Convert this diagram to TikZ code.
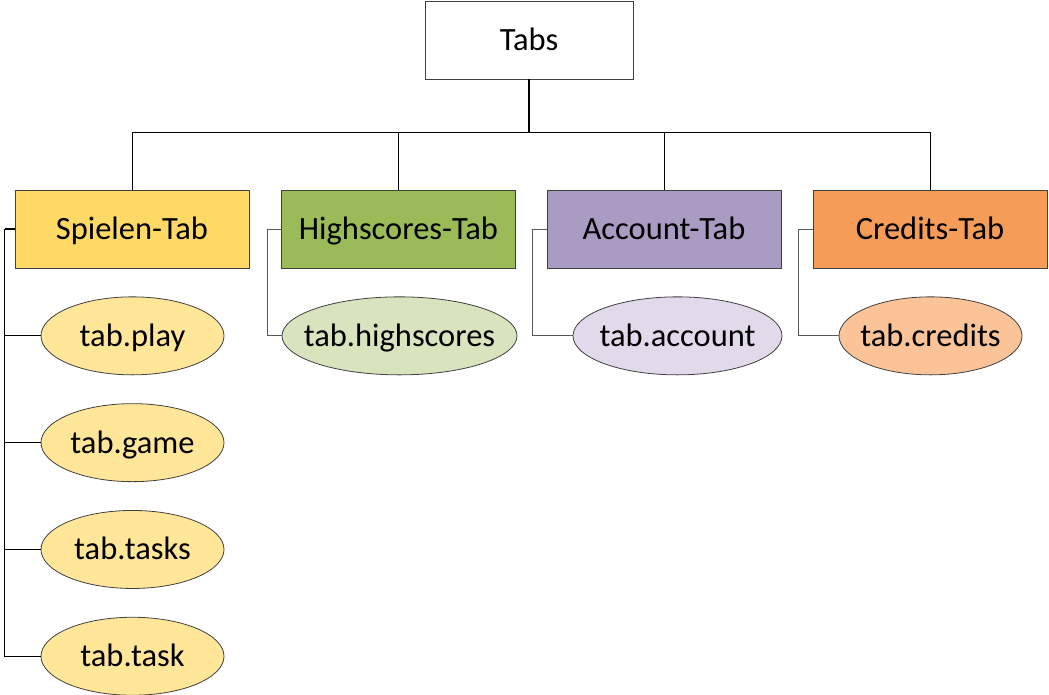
\documentclass[tikz,border=0pt]{standalone}
\usepackage{fontspec}
\setmainfont{Carlito}
\usetikzlibrary{positioning,shapes.geometric}

\definecolor{spielenfill}{HTML}{FFD966}
\definecolor{spielenleaf}{HTML}{FFE699}
\definecolor{scorefill}{HTML}{9BBB59}
\definecolor{scoreleaf}{HTML}{D7E4BD}
\definecolor{accountfill}{HTML}{A99BC2}
\definecolor{accountleaf}{HTML}{E0DAEA}
\definecolor{creditfill}{HTML}{F59D58}
\definecolor{creditleaf}{HTML}{FAC498}
\definecolor{edgegray}{HTML}{404040}
\definecolor{railgray}{HTML}{595959}

\tikzset{
    tabbox/.style={draw=edgegray, line width=0.9pt, rectangle,
        minimum width=234pt, minimum height=78pt, inner sep=0pt,
        text height=24pt, text depth=4pt},
    leaf/.style={draw=edgegray, line width=0.8pt, ellipse,
        minimum height=78pt, inner xsep=-25pt, inner ysep=0pt,
        text height=25pt, text depth=4pt},
    rail/.style={line width=0.9pt, draw=railgray}
}

\begin{document}
\begin{tikzpicture}[x=1pt, y=-1pt,
        font=\fontsize{32.5}{38}\selectfont]
    \useasboundingbox (0,0) rectangle (1049,694);

    % top
    \node [tabbox, minimum width=208pt, fill=white] (tabs) at (529,40) {Tabs};

    % tab boxes
    \node [tabbox, fill=spielenfill] (spielen) at (132,229) {Spielen-Tab};
    \node [tabbox, fill=scorefill] (scores) at (398.5,229) {Highscores-Tab};
    \node [tabbox, fill=accountfill] (account) at (664,229) {Account-Tab};
    \node [tabbox, fill=creditfill] (credits) at (930,229) {Credits-Tab};

    % leaves
    \node [leaf, minimum width=183pt, fill=spielenleaf, below=28pt of spielen,
        xshift=0.5pt] (play) {tab.play};
    \node [leaf, minimum width=183pt, fill=spielenleaf, below=28pt of play]
        (game) {tab.game};
    \node [leaf, minimum width=183pt, fill=spielenleaf, below=28pt of game]
        (tasks) {tab.tasks};
    \node [leaf, minimum width=183pt, fill=spielenleaf, below=28pt of tasks]
        (task) {tab.task};
    \node [leaf, minimum width=235pt, fill=scoreleaf, below=28pt of scores,
        xshift=1pt] (scoreview) {tab.highscores};
    \node [leaf, minimum width=209pt, fill=accountleaf, below=28pt of account,
        xshift=13.5pt] (accountview) {tab.account};
    \node [leaf, minimum width=183pt, fill=creditleaf, below=28pt of credits,
        xshift=0.5pt] (creditview) {tab.credits};

    % bus
    \draw [line width=1.4pt] (tabs.south) -- ++(0,53) coordinate (bus);
    \draw [line width=0.9pt] (spielen.north) |- (bus) -| (credits.north);
    \draw [line width=0.9pt] (scores.north) -- (scores.north |- bus);
    \draw [line width=0.9pt] (account.north) -- (account.north |- bus);

    % rails
    \draw [line width=1.2pt] (spielen.west) -- ++(-10,0) coordinate (sprail);
    \draw [line width=0.9pt] (sprail) |- (task.west);
    \foreach \leafname in {play, game, tasks}
        \draw [line width=0.9pt] (sprail |- \leafname.west) -- (\leafname.west);
    \draw [rail] (scores.west) -- ++(-14,0) |- (scoreview.west);
    \draw [rail] (account.west) -- ++(-14,0) |- (accountview.west);
    \draw [rail] (credits.west) -- ++(-14,0) |- (creditview.west);
\end{tikzpicture}
\end{document}
